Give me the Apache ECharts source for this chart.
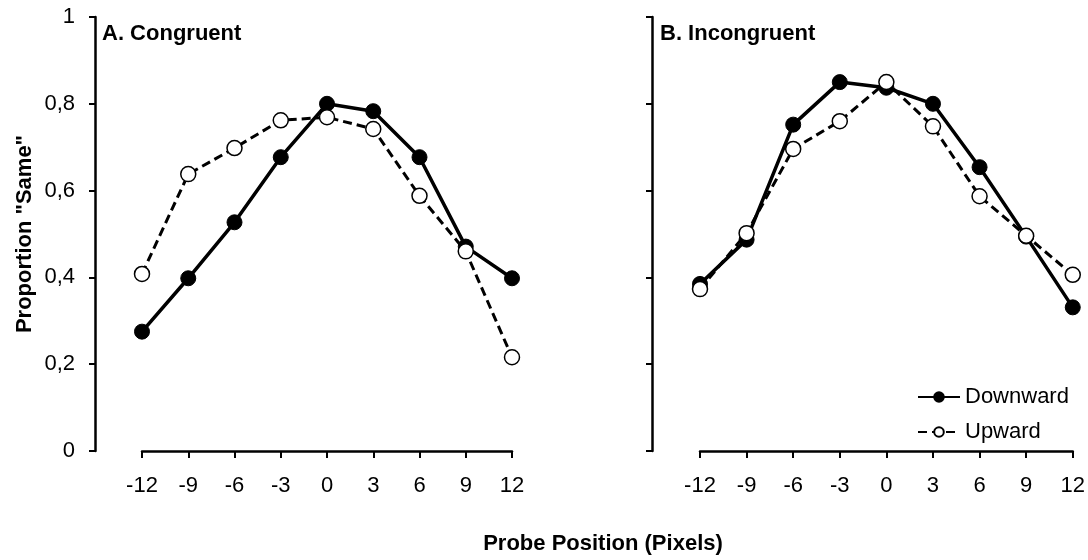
<!DOCTYPE html>
<html>
<head>
    <meta charset="utf-8">
    <title>Probe position</title>
    <script src="https://cdn.jsdelivr.net/npm/echarts@6/dist/echarts.min.js"></script>
    <style>
        html, body { margin: 0; padding: 0; background: #fff; }
        #main { width: 1088px; height: 560px; }
    </style>
</head>
<body>
<div id="main"></div>
<script>
    // probe positions (pixels)
    var positions = [-12, -9, -6, -3, 0, 3, 6, 9, 12];
    var yTicks = [0, 0.2, 0.4, 0.6, 0.8, 1];

    // A. Congruent
    var congDown = [0.275, 0.398, 0.527, 0.677, 0.800, 0.783, 0.677, 0.471, 0.398];
    var congUp = [0.408, 0.638, 0.698, 0.762, 0.769, 0.742, 0.588, 0.460, 0.216];

    // B. Incongruent
    var incDown = [0.385, 0.487, 0.752, 0.850, 0.837, 0.800, 0.654, 0.494, 0.331];
    var incUp = [0.373, 0.502, 0.696, 0.760, 0.850, 0.748, 0.587, 0.496, 0.406];

    var font = '"Liberation Sans", Arial, sans-serif';

    function pairs(vals) {
        return positions.map(function (p, i) { return [p, vals[i]]; });
    }

    function xAxisFor(idx) {
        return {
            type: 'value', gridIndex: idx,
            min: -12, max: 12, interval: 3,
            splitLine: {show: false},
            axisLine: {onZero: false, lineStyle: {color: '#000', width: 2.5}},
            axisTick: {length: 7, lineStyle: {color: '#000', width: 2}},
            axisLabel: {color: '#000', fontSize: 22, fontFamily: font, margin: 24}
        };
    }

    function yAxisFor(idx, offset, labels) {
        return {
            type: 'value', gridIndex: idx,
            min: 0, max: 1, interval: 0.2,
            offset: offset,
            splitLine: {show: false},
            axisLine: {show: true, onZero: false, lineStyle: {color: '#000', width: 2.5}},
            axisTick: {show: true, length: 6, lineStyle: {color: '#000', width: 2}},
            axisLabel: {
                show: labels, color: '#000', fontSize: 22, fontFamily: font, margin: 20,
                formatter: function (v) { return String(Math.round(v * 10) / 10).replace('.', ','); }
            }
        };
    }

    function downSeries(name, idx, vals) {
        return {
            name: name, type: 'line', xAxisIndex: idx, yAxisIndex: idx,
            data: pairs(vals),
            symbol: 'circle', symbolSize: 15,
            lineStyle: {color: '#000', width: 3.5},
            itemStyle: {color: '#000', borderColor: '#000', borderWidth: 1},
            z: 2
        };
    }

    function upSeries(name, idx, vals) {
        return {
            name: name, type: 'line', xAxisIndex: idx, yAxisIndex: idx,
            data: pairs(vals),
            symbol: 'circle', symbolSize: 15,
            lineStyle: {color: '#000', width: 3, type: [9, 5]},
            itemStyle: {color: '#fff', borderColor: '#000', borderWidth: 1.5},
            z: 3
        };
    }

    var chart = echarts.init(document.getElementById('main'));

    var option = {
        animation: false,
        backgroundColor: '#fff',
        grid: [
            {left: 142, top: 17, width: 370, height: 434},
            {left: 700, top: 17, width: 373, height: 434}
        ],
        xAxis: [xAxisFor(0), xAxisFor(1)],
        yAxis: [yAxisFor(0, 47, true), yAxisFor(1, 48, false)],
        legend: {
            orient: 'vertical',
            left: 912, top: 381,
            itemWidth: 42, itemHeight: 12, itemGap: 13,
            textStyle: {color: '#000', fontSize: 22, fontFamily: font},
            data: ['Downward', 'Upward']
        },
        graphic: [
            {type: 'text', left: 102, top: 23,
                style: {text: 'A. Congruent', font: 'bold 22px ' + font, fill: '#000'}},
            {type: 'text', left: 660, top: 23,
                style: {text: 'B. Incongruent', font: 'bold 22px ' + font, fill: '#000'}},
            {type: 'text', x: 25, y: 234, rotation: Math.PI / 2,
                style: {text: 'Proportion "Same"', font: 'bold 22px ' + font, fill: '#000',
                    textAlign: 'center', textVerticalAlign: 'middle'}},
            {type: 'text', x: 603, y: 544,
                style: {text: 'Probe Position (Pixels)', font: 'bold 22px ' + font, fill: '#000',
                    textAlign: 'center', textVerticalAlign: 'middle'}}
        ],
        series: [
            downSeries('Downward', 0, congDown),
            upSeries('Upward', 0, congUp),
            downSeries('Downward', 1, incDown),
            upSeries('Upward', 1, incUp)
        ]
    };

    chart.setOption(option);
</script>
</body>
</html>
